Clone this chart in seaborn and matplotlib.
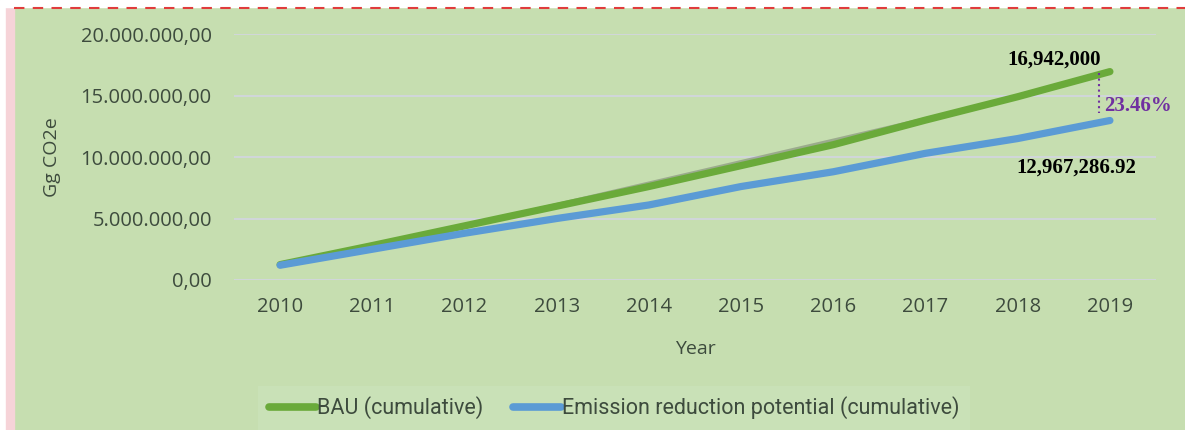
import numpy as np
import pandas as pd
import matplotlib.pyplot as plt
import matplotlib.patheffects as pe
from matplotlib.lines import Line2D
import seaborn as sns

years = [2010, 2011, 2012, 2013, 2014, 2015, 2016, 2017, 2018, 2019]
bau = [1.25e6, 2.8e6, 4.4e6, 6.0e6, 7.6e6, 9.3e6, 11.0e6, 13.0e6, 14.9e6, 16942000]
reduction = [1.2e6, 2.5e6, 3.8e6, 5.0e6, 6.1e6, 7.6e6, 8.8e6, 10.3e6, 11.5e6, 12967286.92]
series_names = ['BAU (cumulative)', 'Emission reduction potential (cumulative)']
colors = ['#6aaa3a', '#5b9bd5']
yticks = [0, 5e6, 10e6, 15e6, 20e6]

df = pd.DataFrame({
    'Year': [str(y) for y in years] * 2,
    'value': bau + reduction,
    'series': [series_names[0]] * len(years) + [series_names[1]] * len(years),
})

bg = '#c6deb0'
txt = '#3d4b3d'

sns.set_style('white')
plt.rcParams['font.family'] = ['Open Sans', 'DejaVu Sans']

fig = plt.figure(figsize=(11.85, 4.3), dpi=100)
fig.patch.set_facecolor(bg)
ax = fig.add_axes([234 / 1185, 1 - 280 / 430, (1156 - 234) / 1185, 246 / 430])
ax.set_facecolor(bg)

sns.lineplot(data=df, x='Year', y='value', hue='series', palette=colors,
             linewidth=5.2, ax=ax, legend=False, sort=False)
for ln in ax.lines:
    ln.set_solid_capstyle('round')
    ln.set_path_effects([pe.SimplePatchShadow(offset=(1.5, -1.5), alpha=0.35), pe.Normal()])

ax.set_xlim(-0.5, len(years) - 0.5)
ax.set_ylim(0, 20e6)
ax.set_yticks(yticks)
ax.set_yticklabels(['0,00'] + ['{:,.2f}'.format(v).replace(',', 'X').replace('.', ',').replace('X', '.') for v in yticks[1:]])
ax.yaxis.grid(True, color='#d2d6de', linewidth=1.3)
ax.set_axisbelow(True)
for s in ax.spines.values():
    s.set_visible(False)
ax.tick_params(axis='both', length=0, labelsize=14.5, labelcolor=txt)
ax.tick_params(axis='y', pad=16)
ax.tick_params(axis='x', pad=12)
ax.set_xlabel('Year', fontsize=14, color=txt, labelpad=17)
ax.set_ylabel('Gg CO2e', fontsize=14, color=txt, labelpad=14)

# annotations at last year
xl = len(years) - 1
ax.plot([xl - 0.12, xl - 0.12], [bau[-1] - 0.1e6, reduction[-1] + 0.6e6], ls=':', color='#7030a0', lw=1.5)
ax.text(xl - 0.1, bau[-1] + 0.15e6, '16,942,000', fontsize=15, fontweight='bold',
        family='Liberation Serif', color='black', ha='right', va='bottom')
ax.text(xl - 0.06, 14.15e6, '23.46%', fontsize=15, fontweight='bold',
        family='Liberation Serif', color='#7030a0', ha='left', va='center')
ax.text(xl - 0.36, 9.1e6, '12,967,286.92', fontsize=15, fontweight='bold',
        family='Liberation Serif', color='black', ha='center', va='center')

handles = [Line2D([], [], color=c, lw=5.5, solid_capstyle='round') for c in colors]
leg = fig.legend(handles, series_names, loc='center', bbox_to_anchor=(614 / 1185, 1 - 408 / 430),
                 ncol=2, frameon=True, fontsize=15.5, handlelength=2.2, handletextpad=0.05,
                 columnspacing=1.4, borderpad=0.5)
leg.get_frame().set_facecolor('#cbe2ba')
leg.get_frame().set_edgecolor('none')
leg.get_frame().set_boxstyle('square', pad=0.0)
for t in leg.get_texts():
    t.set_color(txt)
    t.set_family(['Roboto', 'DejaVu Sans'])

# page decorations: white margin, pink strip, dashed red top line
fig.patches.append(plt.Rectangle((0, 0), 6 / 1185, 1, transform=fig.transFigure, color='white', zorder=0))
fig.patches.append(plt.Rectangle((6 / 1185, 0), 8 / 1185, 1, transform=fig.transFigure, color='#f6d3d8', zorder=0))
fig.patches.append(plt.Rectangle((0, 1 - 7 / 430), 1, 7 / 430, transform=fig.transFigure, color='white', zorder=0))
fig.lines.append(Line2D([14 / 1185, 1], [1 - 8 / 430, 1 - 8 / 430], transform=fig.transFigure,
                        color='#e03c3c', ls=(0, (5, 4)), lw=1.5))

fig.savefig('out.png', dpi=100, facecolor=bg)
